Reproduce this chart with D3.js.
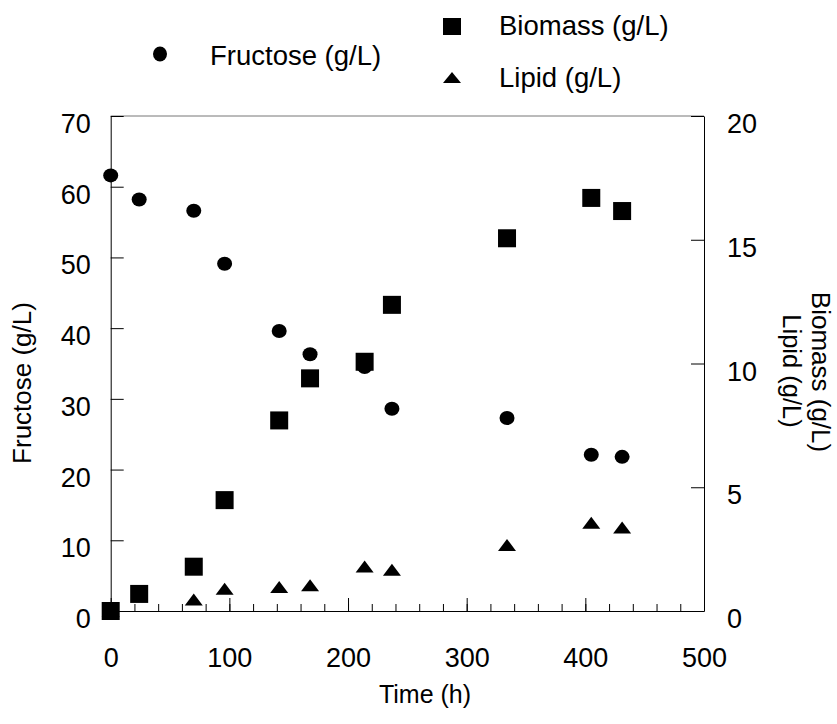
<!DOCTYPE html>
<html lang="en">
<head>
    <meta charset="UTF-8">
    <title>Fructose, Biomass and Lipid over Time</title>
    <script src="https://d3js.org/d3.v7.min.js"></script>
    <style>
        body { margin: 0; background: #fff; }
        svg { display: block; font-family: "Liberation Sans", Arial, sans-serif; }
        .axis path, .axis line { stroke: #000; stroke-width: 1px; }
        .axis text { fill: #000; font-size: 27px; font-family: "Liberation Sans", Arial, sans-serif; }
    </style>
</head>
<body>
<svg id="chart"></svg>
<script>
    // values
    const times    = [0, 24, 70, 96, 142, 168, 214, 237, 334, 405, 431];
    const fructose = [61.6, 58.2, 56.6, 49.1, 39.6, 36.3, 34.5, 28.6, 27.3, 22.1, 21.8];
    const biomass  = [0, 0.69, 1.79, 4.48, 7.70, 9.40, 10.07, 12.37, 15.06, 16.69, 16.16];
    const lipid    = [0, null, 0.46, 0.90, 0.97, 1.04, 1.80, 1.67, 2.67, 3.57, 3.37];

    const xTicks = [0, 100, 200, 300, 400, 500];
    const leftTicks = [0, 10, 20, 30, 40, 50, 60, 70];
    const rightTicks = [0, 5, 10, 15, 20];

    const width = 837, height = 724;
    const svg = d3.select("#chart").attr("width", width).attr("height", height);

    const x = d3.scaleLinear().domain([0, 500]).range([110.7, 704]);
    const yL = d3.scaleLinear().domain([0, 70]).range([611, 116]);
    const yR = d3.scaleLinear().domain([0, 20]).range([611, 116]);

    // top frame line
    svg.append("line")
        .attr("x1", x(0)).attr("x2", x(500))
        .attr("y1", yL(70)).attr("y2", yL(70))
        .attr("stroke", "#777").attr("stroke-width", 1);

    // minor ticks on the time axis
    svg.append("g").attr("class", "axis")
        .attr("transform", `translate(0,${yL(0)})`)
        .call(d3.axisBottom(x).tickValues(d3.range(0, 501, 20)).tickSize(-7).tickFormat(""))
        .call(g => g.select(".domain").remove());

    // bottom axis
    const xAxis = svg.append("g").attr("class", "axis")
        .attr("transform", `translate(0,${yL(0)})`)
        .call(d3.axisBottom(x).tickValues(xTicks).tickSizeInner(-13).tickSizeOuter(0));
    xAxis.selectAll("text").attr("y", 56).attr("dy", null);

    // left axis
    const lAxis = svg.append("g").attr("class", "axis")
        .attr("transform", `translate(${x(0)},0)`)
        .call(d3.axisLeft(yL).tickValues(leftTicks).tickSizeInner(-13).tickSizeOuter(0).tickPadding(20));
    lAxis.selectAll("text").attr("dy", null).attr("y", 16.5);

    // right axis
    const rAxis = svg.append("g").attr("class", "axis")
        .attr("transform", `translate(${x(500)},0)`)
        .call(d3.axisRight(yR).tickValues(rightTicks).tickSizeInner(-13).tickSizeOuter(0).tickPadding(23));
    rAxis.selectAll("text").attr("dy", null).attr("y", 16.5);

    // markers
    const tri = (w, h) => `M0,${-h / 2}L${w / 2},${h / 2}L${-w / 2},${h / 2}Z`;

    svg.append("g").selectAll("ellipse")
        .data(times.map((t, i) => [t, fructose[i]]))
        .join("ellipse")
        .attr("cx", d => x(d[0])).attr("cy", d => yL(d[1]))
        .attr("rx", 7.5).attr("ry", 7)
        .attr("fill", "#000");

    svg.append("g").selectAll("rect")
        .data(times.map((t, i) => [t, biomass[i]]))
        .join("rect")
        .attr("x", d => x(d[0]) - 9).attr("y", d => yR(d[1]) - 9)
        .attr("width", 18).attr("height", 18)
        .attr("fill", "#000");

    svg.append("g").selectAll("path")
        .data(times.map((t, i) => [t, lipid[i]]).filter(d => d[1] !== null))
        .join("path")
        .attr("transform", d => `translate(${x(d[0])},${yR(d[1])})`)
        .attr("d", tri(18, 12))
        .attr("fill", "#000");

    // axis titles
    const title = (tx, ty, rot, txt, size) => svg.append("text")
        .attr("transform", `translate(${tx},${ty}) rotate(${rot})`)
        .attr("text-anchor", "middle")
        .attr("font-size", size)
        .attr("fill", "#000")
        .text(txt);

    title(425, 703, 0, "Time (h)", 25);
    title(31, 383, -90, "Fructose (g/L)", 26);
    title(812, 372, 90, "Biomass (g/L)", 26);
    title(783, 371, 90, "Lipid (g/L)", 25.5);

    // legend
    const legend = svg.append("g");
    legend.append("ellipse").attr("cx", 160).attr("cy", 54).attr("rx", 7).attr("ry", 7.5).attr("fill", "#000");
    legend.append("text").attr("x", 210).attr("y", 65).attr("font-size", 27.5).text("Fructose (g/L)");
    legend.append("rect").attr("x", 443).attr("y", 18).attr("width", 18).attr("height", 17).attr("fill", "#000");
    legend.append("text").attr("x", 499).attr("y", 35).attr("font-size", 27.5).text("Biomass (g/L)");
    legend.append("path").attr("transform", "translate(452,77.5)").attr("d", tri(18, 11)).attr("fill", "#000");
    legend.append("text").attr("x", 499).attr("y", 87).attr("font-size", 27.5).text("Lipid (g/L)");
</script>
</body>
</html>
